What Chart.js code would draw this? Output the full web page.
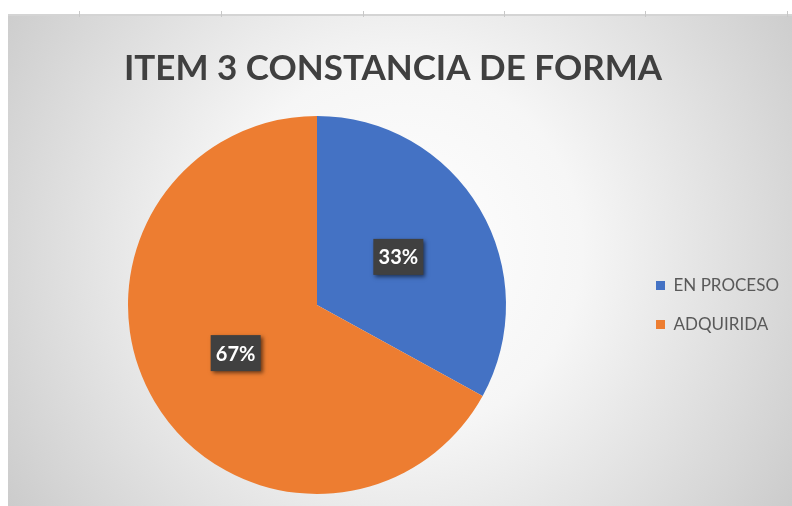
<!DOCTYPE html>
<html>
<head>
<meta charset="utf-8">
<script src="https://cdn.jsdelivr.net/npm/chart.js@4/dist/chart.umd.min.js"></script>
<style>
  html, body { margin: 0; padding: 0; background: #ffffff; }
  #wrap { width: 792px; height: 506px; }
</style>
</head>
<body>
<div id="wrap"><canvas id="c" width="792" height="506"></canvas></div>
<script>
const titleText = "ITEM 3 CONSTANCIA DE FORMA";
const categories = ["EN PROCESO", "ADQUIRIDA"];
const seriesValues = [33, 67];
const sliceColors = ["#4472C4", "#ED7D31"];
const gridTickXs = [79, 221, 363, 504, 645, 787];

const backgroundPlugin = {
  id: 'bgPlugin',
  beforeDraw(chart) {
    const ctx = chart.ctx;
    ctx.save();
    ctx.fillStyle = '#ffffff';
    ctx.fillRect(0, 0, chart.width, chart.height);
    const g = ctx.createRadialGradient(400, 250, 0, 400, 250, 520);
    g.addColorStop(0, '#ffffff');
    g.addColorStop(0.35, '#f6f6f6');
    g.addColorStop(1, '#c4c4c4');
    ctx.fillStyle = g;
    ctx.fillRect(8, 15, chart.width - 8, chart.height - 15);
    ctx.strokeStyle = '#d4d4d4';
    ctx.lineWidth = 2;
    ctx.beginPath();
    ctx.moveTo(8, 15);
    ctx.lineTo(chart.width, 15);
    ctx.stroke();
    ctx.strokeStyle = '#c8c8c8';
    ctx.lineWidth = 1;
    gridTickXs.forEach(x => {
      ctx.beginPath();
      ctx.moveTo(x + 0.5, 11);
      ctx.lineTo(x + 0.5, 17);
      ctx.stroke();
    });
    ctx.restore();
  }
};

const pctLabelPlugin = {
  id: 'pctLabels',
  afterDatasetsDraw(chart) {
    const ctx = chart.ctx;
    const meta = chart.getDatasetMeta(0);
    const data = chart.data.datasets[0].data;
    const total = data.reduce((a, b) => a + b, 0);
    ctx.save();
    ctx.font = 'bold 20px Lato';
    ctx.textAlign = 'center';
    ctx.textBaseline = 'middle';
    meta.data.forEach((arc, i) => {
      const p = arc.tooltipPosition();
      const txt = Math.round(data[i] / total * 100) + '%';
      const w = 50, h = 36;
      ctx.save();
      ctx.shadowColor = 'rgba(0,0,0,0.55)';
      ctx.shadowBlur = 4;
      ctx.shadowOffsetX = 2;
      ctx.shadowOffsetY = 2;
      ctx.fillStyle = '#404040';
      ctx.fillRect(p.x - w / 2, p.y - h / 2, w, h);
      ctx.restore();
      ctx.fillStyle = '#ffffff';
      ctx.fillText(txt, p.x, p.y + 1);
    });
    ctx.restore();
  }
};

new Chart(document.getElementById('c'), {
  type: 'pie',
  data: {
    labels: categories,
    datasets: [{
      data: seriesValues,
      backgroundColor: sliceColors,
      borderWidth: 0
    }]
  },
  options: {
    responsive: false,
    devicePixelRatio: 1,
    animation: false,
    layout: { padding: { top: 15, bottom: 12, left: -3, right: 3 } },
    plugins: {
      title: {
        display: true,
        text: titleText,
        color: '#404040',
        font: { family: 'Lato', size: 35, weight: 'bold', lineHeight: 1.2 },
        padding: { top: 33, bottom: 26 }
      },
      legend: {
        display: true,
        position: 'right',
        fullSize: false,
        labels: {
          boxWidth: 9,
          boxHeight: 9,
          padding: 22,
          color: '#595959',
          font: { family: 'Lato', size: 17 }
        }
      },
      tooltip: { enabled: false }
    }
  },
  plugins: [backgroundPlugin, pctLabelPlugin]
});
</script>
</body>
</html>
